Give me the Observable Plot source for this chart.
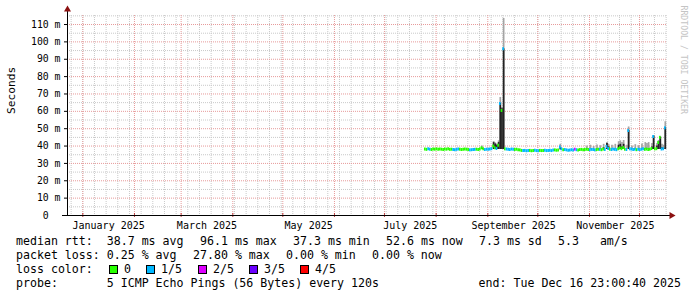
<!DOCTYPE html>
<html><head><meta charset="utf-8">
<script src="https://cdn.jsdelivr.net/npm/d3@7"></script>
<script src="https://cdn.jsdelivr.net/npm/@observablehq/plot@0.6"></script>
<style>
body{margin:0;background:#fff;}
#wrap{position:relative;width:697px;height:297px;font-family:"DejaVu Sans Mono",monospace;overflow:hidden;}
#chart svg{display:block;}
#legend{position:absolute;left:0;top:235px;width:697px;height:62px;font-size:11.6px;color:#000;}
#legend span{position:absolute;white-space:pre;line-height:14px;}
#legend .box{position:absolute;width:7px;height:7px;border:1px solid #000;}
</style></head><body><div id="wrap"><div id="chart"></div><div id="legend"></div></div>
<script>
// ---------------- data ----------------
const viewStart = "2024-12-22T19:40:00Z";
const viewEnd = "2025-12-17T19:40:00Z";
const firstDay = "2025-07-25T00:00:00Z"; // first day with data, one value per day

const medianMs = [
  38.3, 38.1, 38.4, 38.2, 38.0, 38.3, 38.2, 38.4, 38.1, 38.3,
  38.2, 38.0, 38.3, 38.2, 38.4, 38.1, 38.2, 38.0, 37.9, 38.1,
  38.3, 38.2, 38.0, 38.1, 38.3, 38.2, 38.0, 37.8, 37.9, 38.0,
  38.1, 38.2, 38.0, 38.3, 39.0, 38.4, 38.0, 38.2, 38.1, 38.3,
  38.5, 40.0, 39.0, 38.6, 40.5, 64.5, 60.5, 96.1, 38.4, 38.3,
  38.2, 38.0, 38.3, 38.1, 38.0, 38.2, 37.9, 37.8, 37.5, 37.4,
  37.5, 37.3, 37.4, 37.5, 37.3, 37.4, 37.6, 37.4, 37.3, 37.5,
  37.4, 37.5, 37.6, 37.4, 37.5, 37.6, 37.4, 37.7, 37.8, 37.6,
  37.7, 39.5, 38.4, 37.9, 38.0, 37.8, 37.6, 37.7, 37.9, 37.8,
  38.2, 37.9, 37.8, 38.0, 38.1, 37.9, 38.0, 38.2, 38.0, 37.9,
  38.1, 38.0, 37.8, 38.0, 38.2, 38.1, 37.9, 38.3, 38.0, 39.8,
  38.6, 38.2, 38.0, 38.3, 38.1, 37.9, 38.4, 39.0, 38.5, 39.2,
  38.2, 38.0, 49.0, 38.4, 38.3, 38.0, 38.2, 37.9, 38.1, 38.0,
  38.2, 38.4, 38.1, 38.3, 38.0, 38.2, 38.6, 45.5, 38.4, 38.5,
  42.0, 45.0, 38.3, 38.4, 50.5
];
// loss class per day: 0 = 0, 1 = 1/5, 2 = 2/5, 3 = 3/5, 4 = 4/5
const lossIdx = [
  0,0,1,1,0,0,0,0,0,0,
  0,0,0,0,0,0,0,1,1,1,
  1,0,0,0,0,0,0,1,1,1,
  1,0,0,0,0,0,1,1,1,1,
  1,0,0,1,0,1,0,1,0,1,
  1,1,1,1,0,0,0,0,0,1,
  1,1,1,0,0,0,1,1,1,0,
  0,0,1,1,1,1,1,1,0,0,
  0,1,1,0,1,1,1,1,1,1,
  2,1,0,0,0,0,0,0,0,1,
  1,1,1,0,0,1,0,0,1,1,
  1,0,1,1,1,1,0,0,0,0,
  0,1,1,1,1,1,1,0,1,1,
  1,1,0,0,0,0,0,1,0,0,
  0,0,1,1,1
];
// smoke (ping spread) on days where it shows: day index, lowest, dark top, light top (ms)
const smokeDay   = [34, 41, 42, 43, 44, 45, 46, 47, 81, 97, 99, 101, 103, 105, 107, 109, 110, 112, 114, 116, 117, 118, 119, 121, 122, 124, 126, 128, 130, 132, 133, 134, 136, 137, 139, 140, 141, 142, 143, 144];
const smokeLow   = [38.0, 38.0, 38.0, 38.0, 38.0, 38.0, 38.0, 38.0, 37.8, 38.0, 37.8, 37.8, 37.8, 38.0, 38.0, 38.0, 38.0, 38.0, 38.0, 38.0, 38.0, 38.0, 38.0, 38.0, 38.0, 38.0, 38.0, 38.0, 38.0, 38.0, 38.0, 38.0, 38.0, 38.0, 38.0, 38.0, 38.0, 38.0, 38.0, 38.0];
const smokeDark  = [38.6, 42.0, 41.2, 40.5, 42.0, 64.5, 61.5, 96.0, 39.0, 38.0, 37.8, 37.8, 37.8, 38.0, 39.0, 41.5, 39.5, 38.0, 38.0, 40.5, 41.0, 39.5, 41.0, 38.0, 49.0, 38.0, 38.0, 38.0, 38.0, 38.0, 38.0, 38.0, 39.5, 45.7, 40.0, 42.6, 45.0, 39.0, 38.5, 50.5];
const smokeLight = [40.0, 42.6, 41.8, 41.0, 43.0, 68.0, 62.2, 113.5, 41.0, 40.0, 40.5, 39.8, 40.6, 40.2, 41.0, 42.0, 41.0, 40.4, 41.0, 42.5, 43.0, 42.0, 43.2, 40.5, 51.0, 40.0, 40.8, 40.2, 41.2, 42.0, 41.5, 42.0, 41.5, 46.0, 41.5, 43.2, 45.6, 41.0, 40.5, 54.0];

const monthStarts = ["2025-01-01","2025-02-01","2025-03-01","2025-04-01","2025-05-01","2025-06-01","2025-07-01","2025-08-01","2025-09-01","2025-10-01","2025-11-01","2025-12-01"];
const xTickDates = ["2025-01-16T12:00:00Z","2025-03-16T12:00:00Z","2025-05-16T12:00:00Z","2025-07-16T12:00:00Z","2025-09-16T12:00:00Z","2025-11-16T12:00:00Z"];
const xTickLabels = ["January 2025","March 2025","May 2025","July 2025","September 2025","November 2025"];
const yTicks = [0, 10, 20, 30, 40, 50, 60, 70, 80, 90, 100, 110];
const yTickLabels = ["0\u00a0\u00a0","10 m","20 m","30 m","40 m","50 m","60 m","70 m","80 m","90 m","100 m","110 m"];
const yMinor = [5, 15, 25, 35, 45, 55, 65, 75, 85, 95, 105, 115];
const yMax = 115.2;

const lossColors = ["#26ff00","#00b8ff","#dd00ff","#6a00ff","#ff0000"];
const lossLabels = ["0","1/5","2/5","3/5","4/5"];

const legendRtt = ["median rtt:  38.7 ms avg","96.1 ms max","37.3 ms min","52.6 ms now","7.3 ms sd","5.3   am/s"];
const legendLoss = ["packet loss: 0.25 % avg","27.80 % max","0.00 % min","0.00 % now"];
const legendLossTitle = "loss color:";
const legendProbe = "probe:       5 ICMP Echo Pings (56 Bytes) every 120s";
const legendEnd = "end: Tue Dec 16 23:00:40 2025";
const yLabel = "Seconds";
const watermark = "RRDTOOL / TOBI OETIKER";

// ---------------- build ----------------
const DAY = 864e5;
const t0 = new Date(firstDay);
const xStart = new Date(viewStart), xEnd = new Date(viewEnd);
const medRows = medianMs.map((v, i) => ({x1: new Date(+t0 + i * DAY), x2: new Date(+t0 + (i + 1) * DAY), y: v, c: lossColors[lossIdx[i]]}));
const smokeRows = smokeDay.map((d, i) => ({x: new Date(+t0 + (d + 0.5) * DAY), lo: smokeLow[i], dk: smokeDark[i], lt: smokeLight[i]}));
const weekLines = d3.utcWednesday.range(xStart, xEnd);
const months = monthStarts.map(s => new Date(s + "T00:00:00Z"));

const minorGrid = "#c9c9c9", majorGrid = "#e79a9a", arrowCol = "#8b1010";

const chart = Plot.plot({
  width: 697, height: 235,
  marginLeft: 67, marginRight: 30, marginTop: 15, marginBottom: 20,
  style: {fontFamily: '"DejaVu Sans Mono", monospace', background: "#fff", overflow: "visible"},
  x: {type: "utc", domain: [xStart, xEnd], axis: null},
  y: {domain: [0, yMax], axis: null},
  color: {type: "identity"},
  marks: [
    Plot.ruleX(weekLines, {stroke: minorGrid, strokeDasharray: "1,1"}),
    Plot.ruleY(yMinor, {stroke: minorGrid, strokeDasharray: "1,1"}),
    Plot.ruleX(months, {stroke: majorGrid, strokeDasharray: "1,1"}),
    Plot.ruleY(yTicks.filter(v => v > 0), {stroke: majorGrid, strokeDasharray: "1,1"}),
    // smoke
    Plot.ruleX(smokeRows, {x: "x", y1: "lo", y2: "lt", stroke: "#a4a4a4", strokeWidth: 1.7}),
    Plot.ruleX(smokeRows.filter(d => d.dk > d.lo + 0.3), {x: "x", y1: "lo", y2: "dk", stroke: "#222", strokeWidth: 1.7}),
    // median, coloured by loss
    Plot.ruleY(medRows, {x1: "x1", x2: "x2", y: "y", stroke: "c", strokeWidth: 3}),
    // axes
    Plot.ruleX(months, {y1: () => 0, y2: () => 0, insetTop: -2, insetBottom: -2, stroke: "#c04040"}),
    Plot.ruleY(yTicks, {x1: () => xStart, x2: () => xStart, insetLeft: -3, stroke: "#000"}),
    Plot.ruleY([0], {stroke: "#000", insetLeft: -5, insetRight: -3}),
    Plot.ruleX([xStart], {stroke: "#000", insetTop: -5}),
    Plot.dot([xStart], {x: d => d, y: () => yMax, symbol: "triangle", r: 2.6, fill: arrowCol, stroke: "none", dy: -6}),
    Plot.dot([xEnd], {x: d => d, y: () => 0, symbol: "triangle", r: 2.6, rotate: 90, fill: arrowCol, stroke: "none", dx: 4}),
    // tick labels
    Plot.text(yTicks, {x: () => xStart, y: d => d, text: (d, i) => yTickLabels[i], textAnchor: "end", dx: -7, fontSize: 9.8, fill: "#000"}),
    Plot.text(xTickDates, {x: d => new Date(d), y: () => 0, text: (d, i) => xTickLabels[i], dy: 10.5, fontSize: 10, fill: "#000"}),
    // y label and watermark
    Plot.text([yLabel], {frameAnchor: "left", text: d => d, rotate: -90, dx: -56, dy: -1.5, fontSize: 11.2, fill: "#000"}),
    Plot.text([watermark], {frameAnchor: "top-right", text: d => d, rotate: 90, textAnchor: "start", dx: 19, dy: -10, fontSize: 8.2, fill: "#c4c4c4"})
  ]
});
document.getElementById("chart").append(chart);

// ---------------- legend ----------------
const L = document.getElementById("legend");
function put(x, top, text, right) {
  const s = document.createElement("span");
  s.textContent = text;
  s.style.top = top + "px";
  if (right) s.style.right = (697 - x) + "px"; else s.style.left = x + "px";
  L.append(s);
}
const rttX = [16, 200, 293, 386, 479, 558];
legendRtt.forEach((t, i) => put(rttX[i], -1, t));
const lossX = [16, 193, 286, 372];
legendLoss.forEach((t, i) => put(lossX[i], 13, t));
put(16, 27, legendLossTitle);
const boxX = [109, 146, 198, 249, 300];
lossLabels.forEach((t, i) => {
  const b = document.createElement("div");
  b.className = "box";
  b.style.left = boxX[i] + "px";
  b.style.top = "30px";
  b.style.background = lossColors[i];
  L.append(b);
  put(boxX[i] + 15, 27, t);
});
put(16, 41, legendProbe);
put(681, 41, legendEnd, true);
</script>
</body></html>
